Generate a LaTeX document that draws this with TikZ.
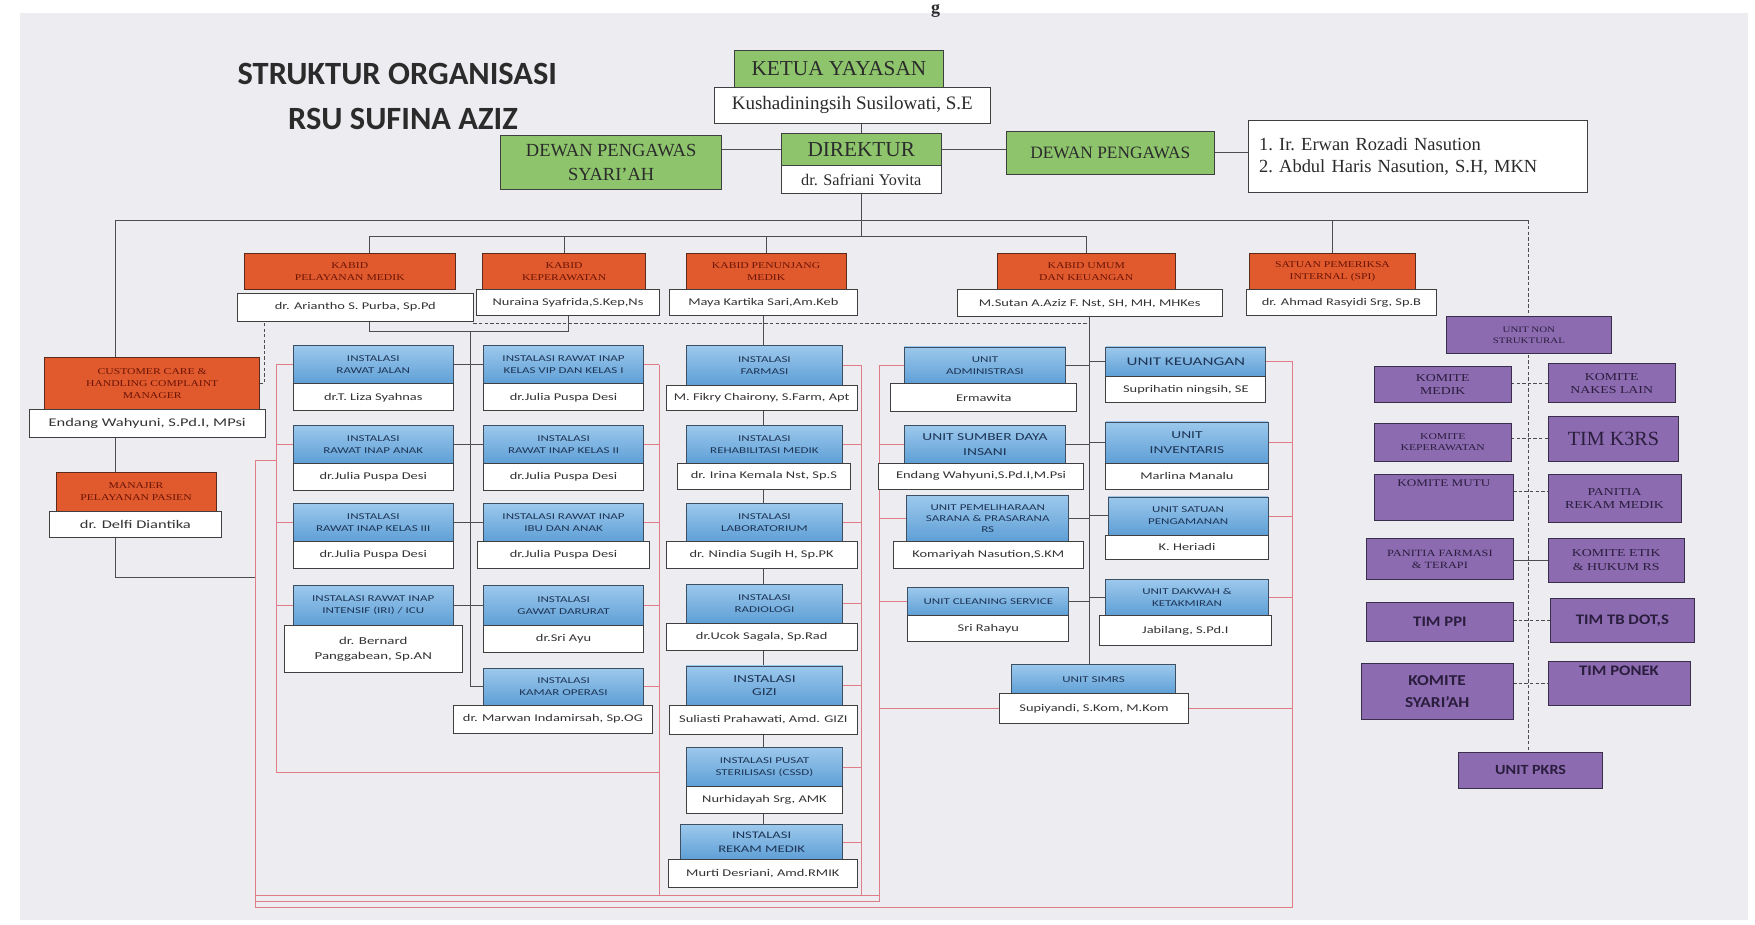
\documentclass[tikz,border=0pt]{standalone}
\usepackage{fontspec}
\setmainfont{Carlito}
\newfontfamily\sr{Liberation Serif}
\newfontfamily\srx[FakeStretch=1.3]{Liberation Serif}
\newfontfamily\nm[FakeStretch=1.4]{Carlito}
\newfontfamily\hd[FakeStretch=1.45]{Carlito}
\newfontfamily\pb[FakeStretch=1.15]{Carlito}
\usetikzlibrary{calc}
\pgfdeclarelayer{bgzero}\pgfdeclarelayer{bgone}
\pgfsetlayers{bgzero,bgone,main}
\definecolor{pagebg}{HTML}{EDECF1}
\definecolor{gfill}{HTML}{8DC46C}
\definecolor{bdr}{HTML}{3F3F3F}
\definecolor{ofill}{HTML}{E15A2D}
\definecolor{obdr}{HTML}{5A2A1A}
\definecolor{otxt}{HTML}{6B1406}
\definecolor{btop}{HTML}{9CC8EC}
\definecolor{bbot}{HTML}{5E9FD6}
\definecolor{bbdr}{HTML}{3C4F63}
\definecolor{btxt}{HTML}{1E3555}
\definecolor{pfill}{HTML}{8C6BB0}
\definecolor{pbdr}{HTML}{3A2F4A}
\definecolor{ptxt}{HTML}{2A1D3D}
\definecolor{ntxt}{HTML}{333333}
\definecolor{lcol}{HTML}{4D4D4D}
\definecolor{rcol}{HTML}{E07C88}
\definecolor{ttl}{HTML}{2B2B2B}
\newcommand\fz[2]{\fontsize{#1}{#2}\selectfont}
\newcommand\mkbox[7]{\node[#6,minimum width={(#4-#2)*1pt},minimum height={(#5-#3)*1pt}] (#1) at ({(#2+#4)/2},{(#3+#5)/2}) {#7};}
\tikzset{
 base/.style={inner sep=0pt,outer sep=0pt,align=center,line width=0.8pt},
 gbox/.style={base,draw=bdr,fill=gfill,text=ttl,font=\sr\fz{17}{21}},
 wtop/.style={base,draw=bdr,fill=white,text=ttl,font=\sr\fz{17}{20}},
 wname/.style={base,draw=bdr,fill=white,text=ntxt,font=\nm\fz{9.2}{11.5}},
 obox/.style={base,draw=obdr,fill=ofill,text=otxt,font=\srx\fz{8}{10.5}},
 bbox/.style={base,draw=bbdr,top color=btop,bottom color=bbot,text=btxt,font=\hd\fz{8}{10.5}},
 pbox/.style={base,draw=pbdr,fill=pfill,text=ptxt,font=\srx\fz{9.5}{12}},
 pbold/.style={pbox,font=\pb\bfseries\fz{13}{16}},
 blk/.style={line width=0.9pt,draw=lcol},
 dsh/.style={line width=0.9pt,draw=lcol,dash pattern=on 3pt off 2pt},
 rln/.style={line width=0.7pt,draw=rcol}
}
\begin{document}
\begin{tikzpicture}[x=1pt,y=-1pt]
\useasboundingbox (0,0) rectangle (1568,826);
\begin{pgfonlayer}{bgzero}
\fill[white] (0,0) rectangle (1568,826);
\fill[pagebg] (18,12) rectangle (1562,822);
\end{pgfonlayer}

% title
\node[font=\bfseries\fz{29}{32},text=ttl] (t1) at (355,66) {STRUKTUR ORGANISASI};
\node[font=\bfseries\fz{29}{32},text=ttl] (t2) at (360,106) {RSU SUFINA AZIZ};
\node[font=\sr\bfseries\fz{16}{18},text=ttl,anchor=north,inner sep=0pt] (gtop) at (836,4) {g};

% top green
\mkbox{ketua}{656}{45}{843}{78}{gbox,font=\sr\fz{19}{21}}{KETUA YAYASAN}
\mkbox{kush}{638}{78}{885}{110}{wtop}{Kushadiningsih Susilowati, S.E}
\mkbox{dir}{698}{119}{841}{148}{gbox,font=\sr\fz{19}{21}}{DIREKTUR}
\mkbox{saf}{698}{148}{841}{173}{wtop,font=\sr\fz{14.5}{17}}{dr. Safriani Yovita}
\mkbox{dps}{447}{121}{645}{169}{gbox,font=\sr\fz{16.5}{21}}{DEWAN PENGAWAS\\SYARI’AH}
\mkbox{dp}{899}{117}{1085}{156}{gbox,font=\sr\fz{15.5}{19}}{DEWAN PENGAWAS}
\mkbox{dpm}{1115}{108}{1418}{172}{wtop,align=left,text width=283pt,font=\sr\fz{16.5}{20}\frenchspacing}{1. Ir. Erwan Rozadi Nasution\\2. Abdul Haris Nasution, S.H, MKN}

% kabid row
\mkbox{kpm}{218}{226}{407}{259}{obox}{KABID\\PELAYANAN MEDIK}
\mkbox{ari}{212}{262}{423}{287}{wname}{dr. Ariantho S. Purba, Sp.Pd}
\mkbox{kkep}{431}{226}{577}{259}{obox}{KABID\\KEPERAWATAN}
\mkbox{nur}{426}{259}{589}{282}{wname}{Nuraina Syafrida,S.Kep,Ns}
\mkbox{kpen}{613}{226}{756}{259}{obox}{KABID PENUNJANG\\MEDIK}
\mkbox{maya}{598}{259}{766}{282}{wname}{Maya Kartika Sari,Am.Keb}
\mkbox{kum}{891}{226}{1050}{259}{obox}{KABID UMUM\\DAN KEUANGAN}
\mkbox{sut}{855}{259}{1092}{283}{wname}{M.Sutan A.Aziz F. Nst, SH, MH, MHKes}
\mkbox{spi}{1116}{226}{1265}{259}{obox}{SATUAN PEMERIKSA\\INTERNAL (SPI)}
\mkbox{ras}{1114}{259}{1283}{282}{wname}{dr. Ahmad Rasyidi Srg, Sp.B}

% customer care
\mkbox{ccm}{40}{319}{232}{366}{obox}{CUSTOMER CARE \&\\HANDLING COMPLAINT\\MANAGER}
\mkbox{endn}{26}{366}{237}{391}{wname,font=\nm\fz{10.5}{12}}{Endang Wahyuni, S.Pd.I, MPsi}
\mkbox{man}{50}{422}{193}{457}{obox}{MANAJER\\PELAYANAN PASIEN}
\mkbox{delfi}{44}{457}{198}{480}{wname,font=\nm\fz{10.5}{12}}{dr. Delfi Diantika}

% pelayanan medik col 1
\mkbox{rj}{262}{309}{405}{343}{bbox}{INSTALASI\\RAWAT JALAN}
\mkbox{rjn}{262}{343}{405}{367}{wname}{dr.T. Liza Syahnas}
\mkbox{ria}{262}{380}{405}{414}{bbox}{INSTALASI\\RAWAT INAP ANAK}
\mkbox{rian}{262}{414}{405}{438}{wname}{dr.Julia Puspa Desi}
\mkbox{ri3}{262}{450}{405}{484}{bbox}{INSTALASI\\RAWAT INAP KELAS III}
\mkbox{ri3n}{262}{484}{405}{508}{wname}{dr.Julia Puspa Desi}
\mkbox{icu}{262}{523}{405}{559}{bbox}{INSTALASI RAWAT INAP\\INTENSIF (IRI) / ICU}
\mkbox{icun}{254}{559}{413}{601}{wname,font=\nm\fz{9.5}{13}}{dr. Bernard\\Panggabean, Sp.AN}
% col 2
\mkbox{vip}{432}{309}{575}{343}{bbox}{INSTALASI RAWAT INAP\\KELAS VIP DAN KELAS I}
\mkbox{vipn}{432}{343}{575}{367}{wname}{dr.Julia Puspa Desi}
\mkbox{ri2}{432}{380}{575}{414}{bbox}{INSTALASI\\RAWAT INAP KELAS II}
\mkbox{ri2n}{432}{414}{575}{438}{wname}{dr.Julia Puspa Desi}
\mkbox{iba}{432}{450}{575}{484}{bbox}{INSTALASI RAWAT INAP\\IBU DAN ANAK}
\mkbox{iban}{427}{484}{580}{508}{wname}{dr.Julia Puspa Desi}
\mkbox{igd}{432}{523}{575}{559}{bbox}{INSTALASI\\GAWAT DARURAT}
\mkbox{igdn}{432}{559}{575}{583}{wname}{dr.Sri Ayu}
\mkbox{ok}{432}{597}{575}{630}{bbox}{INSTALASI\\KAMAR OPERASI}
\mkbox{okn}{405}{630}{583}{655}{wname}{dr. Marwan Indamirsah, Sp.OG}

% penunjang
\mkbox{far}{613}{309}{753}{344}{bbox}{INSTALASI\\FARMASI}
\mkbox{farn}{595}{344}{766}{367}{wname}{M. Fikry Chairony, S.Farm, Apt}
\mkbox{reh}{613}{380}{753}{414}{bbox}{INSTALASI\\REHABILITASI MEDIK}
\mkbox{rehn}{605}{414}{760}{437}{wname}{dr. Irina Kemala Nst, Sp.S}
\mkbox{lab}{613}{450}{753}{484}{bbox}{INSTALASI\\LABORATORIUM}
\mkbox{labn}{595}{484}{766}{508}{wname}{dr. Nindia Sugih H, Sp.PK}
\mkbox{rad}{613}{522}{753}{557}{bbox}{INSTALASI\\RADIOLOGI}
\mkbox{radn}{595}{557}{766}{581}{wname}{dr.Ucok Sagala, Sp.Rad}
\mkbox{gizi}{613}{595}{753}{630}{bbox,font=\hd\fz{9.5}{12}}{INSTALASI\\GIZI}
\mkbox{gizin}{598}{630}{766}{656}{wname}{Suliasti Prahawati, Amd. GIZI}
\mkbox{cssd}{613}{668}{753}{703}{bbox}{INSTALASI PUSAT\\STERILISASI (CSSD)}
\mkbox{cssdn}{613}{703}{753}{727}{wname}{Nurhidayah Srg, AMK}
\mkbox{rm}{608}{737}{753}{768}{bbox,font=\hd\fz{9}{12}}{INSTALASI\\REKAM MEDIK}
\mkbox{rmn}{597}{768}{766}{793}{wname}{Murti Desriani, Amd.RMIK}

% umum dan keuangan
\mkbox{adm}{808}{310}{952}{343}{bbox}{UNIT\\ADMINISTRASI}
\mkbox{admn}{796}{343}{962}{368}{wname}{Ermawita}
\mkbox{sdi}{808}{380}{952}{414}{bbox,font=\hd\fz{9.5}{13}}{UNIT SUMBER DAYA\\INSANI}
\mkbox{sdin}{785}{414}{968}{437}{wname}{Endang Wahyuni,S.Pd.I,M.Psi}
\mkbox{pem}{810}{443}{955}{484}{bbox,font=\hd\fz{8}{10}}{UNIT PEMELIHARAAN\\SARANA \& PRASARANA\\RS}
\mkbox{pemn}{798}{484}{968}{508}{wname}{Komariyah Nasution,S.KM}
\mkbox{cs}{811}{525}{955}{550}{bbox}{UNIT CLEANING SERVICE}
\mkbox{csn}{811}{550}{955}{573}{wname}{Sri Rahayu}
\mkbox{keu}{988}{310}{1131}{336}{bbox,font=\hd\fz{10.5}{13}}{UNIT KEUANGAN}
\mkbox{keun}{988}{336}{1131}{360}{wname}{Suprihatin ningsih, SE}
\mkbox{inv}{988}{377}{1133}{414}{bbox,font=\hd\fz{9.5}{13}}{UNIT\\INVENTARIS}
\mkbox{invn}{988}{414}{1133}{437}{wname}{Marlina Manalu}
\mkbox{pam}{990}{444}{1133}{478}{bbox}{UNIT SATUAN\\PENGAMANAN}
\mkbox{pamn}{988}{478}{1133}{500}{wname}{K. Heriadi}
\mkbox{dak}{988}{518}{1133}{550}{bbox}{UNIT DAKWAH \&\\KETAKMIRAN}
\mkbox{dakn}{982}{550}{1136}{577}{wname}{Jabilang, S.Pd.I}
\mkbox{simrs}{904}{594}{1050}{620}{bbox}{UNIT SIMRS}
\mkbox{simrsn}{893}{620}{1062}{646}{wname}{Supiyandi, S.Kom, M.Kom}

% non struktural
\mkbox{uns}{1292}{283}{1440}{316}{pbox,font=\srx\fz{7.5}{10}}{UNIT NON\\STRUKTURAL}
\mkbox{km}{1228}{327}{1350}{360}{pbox}{KOMITE\\MEDIK}
\mkbox{knl}{1383}{325}{1497}{360}{pbox}{KOMITE\\NAKES LAIN}
\mkbox{kkp}{1228}{378}{1350}{412}{pbox,font=\srx\fz{8}{10.5}}{KOMITE\\KEPERAWATAN}
\mkbox{k3}{1383}{372}{1500}{412}{pbox,font=\sr\fz{18}{20}}{TIM K3RS}
\mkbox{kmu}{1228}{424}{1352}{465}{pbox,font=\srx\fz{9}{12}}{KOMITE MUTU\\[14pt]\mbox{}}
\mkbox{prm}{1383}{424}{1502}{467}{pbox}{PANITIA\\REKAM MEDIK}
\mkbox{pft}{1221}{481}{1352}{518}{pbox,font=\srx\fz{8.5}{11}}{PANITIA FARMASI\\\& TERAPI}
\mkbox{keh}{1383}{481}{1505}{520}{pbox}{KOMITE ETIK\\\& HUKUM RS}
\mkbox{ppi}{1221}{538}{1352}{573}{pbold}{TIM PPI}
\mkbox{tb}{1385}{535}{1514}{574}{pbold}{TIM TB DOT,S}
\mkbox{ksy}{1216}{593}{1352}{643}{pbold,font=\pb\bfseries\fz{13.5}{20}}{KOMITE\\SYARI’AH}
\mkbox{pon}{1383}{591}{1510}{630}{pbold}{TIM PONEK\\[6pt]\mbox{}}
\mkbox{pkrs}{1303}{672}{1432}{704}{pbold,font=\pb\bfseries\fz{12.5}{15}}{UNIT PKRS}

\begin{pgfonlayer}{bgone}
% coordinates
\coordinate (b1L) at (103,197);
\coordinate (b1R) at (1366,197);
\coordinate (b2L) at (330,211);
\coordinate (pj) at (420,296);
\coordinate (dv) at (236,342);
\coordinate (dl) at (103,516);
\coordinate (rA) at (228,411);
\coordinate (rB) at (247,690);
\coordinate (r2) at (589,800);
\coordinate (r3) at (770,800);
\coordinate (r4) at (786,805);
\coordinate (r6) at (1155,811);

% top connectors
\draw[blk] (dir.north) -- (dir.north |- kush.south);
\draw[blk] (dir.west) -- (dir.west -| dps.east);
\draw[blk] (dir.east) -- (dir.east -| dp.west);
\draw[blk] (dp.east) -- (dp.east -| dpm.west);
\draw[blk] (saf.south) -- (saf.south |- b2L);
\draw[blk] (b1L) -- (b1R);
\draw[blk] (b2L) -- (kum.north |- b2L);
\draw[blk] (b1L) -- (b1L |- ccm.north);
\draw[blk] (b2L) -- (b2L |- kpm.north);
\draw[blk] (kkep.north) -- (kkep.north |- b2L);
\draw[blk] (kpen.north) -- (kpen.north |- b2L);
\draw[blk] (kum.north) -- (kum.north |- b2L);
\draw[blk] (spi.north) -- (spi.north |- b1L);
\draw[dsh] (b1R) -- (b1R |- pkrs.north);

% customer care chain
\draw[blk] (endn.south -| b1L) -- (man.north -| b1L);
\draw[blk] (delfi.south -| dl) -- (dl) -- (dl -| rA);
\draw[dsh] (ccm.east) -- (ccm.east -| dv) -- (dv |- ari.south);
\draw[dsh] ($(ari.south east)+(0,2)$) -- ($(ari.south east -| sut.south)+(0,2)$);

% pelayanan medik
\draw[blk] (ari.south -| b2L) -- (b2L |- pj) -- (nur.south |- pj) -- (nur.south);
\draw[blk] (pj) -- (pj |- ok.west);
\foreach \n in {rj,ria,ri3,icu} \draw[blk] (\n.east) -- (\n.east -| pj);
\foreach \n in {vip,ri2,iba,igd,ok} \draw[blk] (\n.west) -- (\n.west -| pj);

% penunjang
\draw[blk] (maya.south) -- (maya.south |- rm.north);

% umum
\draw[blk] (sut.south) -- (sut.south |- simrs.north);
\foreach \n in {adm,sdi,pem,cs} \draw[blk] (\n.east) -- (\n.east -| sut.south);
\foreach \n in {keu,inv,pam,dak} \draw[blk] (\n.west) -- (\n.west -| sut.south);

% red relations
\draw[rln] (rB |- rj.west) -- (rB) -- (rB -| r2);
\foreach \n in {rj,ria,ri3,icu} \draw[rln] (\n.west) -- (\n.west -| rB);
\draw[rln] (rA -| rB) -- (rA) -- (rA |- r6);
\draw[rln] (vip.east -| r2) -- (r2);
\foreach \n in {vip,ri2,iba,igd,ok} \draw[rln] (\n.east) -- (\n.east -| r2);
\draw[rln] (far.east -| r3) -- (r3);
\foreach \n in {far,reh,lab,rad,gizi,cssd,rm} \draw[rln] (\n.east) -- (\n.east -| r3);
\draw[rln] (adm.west -| r4) -- (r4);
\foreach \n in {adm,sdi,pem,cs,simrsn} \draw[rln] (\n.west) -- (\n.west -| r4);
\draw[rln] (keu.east -| r6) -- (r6);
\foreach \n in {keu,inv,pam,dak,simrsn} \draw[rln] (\n.east) -- (\n.east -| r6);
\draw[rln] (rA |- r2) -- (r4 |- r2);
\draw[rln] (rA |- r4) -- (r4);
\draw[rln] (rA |- r6) -- (r6);

% non struktural pairs
\draw[dsh] (knl.west -| km.east) -- (knl.west);
\draw[dsh] (k3.west -| kkp.east) -- (k3.west);
\draw[dsh] ($(kmu.north east)+(0,15)$) -- ($(kmu.north east -| prm.west)+(0,15)$);
\draw[blk] (keh.west -| pft.east) -- (keh.west);
\draw[dsh] (tb.west -| ppi.east) -- (tb.west);
\draw[dsh] (pon.west -| ksy.east) -- (pon.west);
\end{pgfonlayer}
\end{tikzpicture}
\end{document}
